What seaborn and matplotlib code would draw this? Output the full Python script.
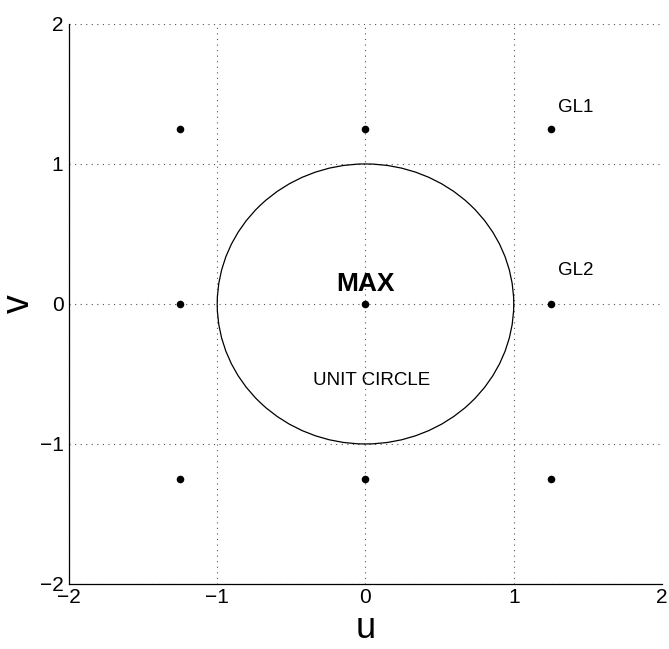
import numpy as np
import pandas as pd
import matplotlib
matplotlib.use("Agg")
import matplotlib.pyplot as plt
from matplotlib.patches import Circle
from matplotlib.ticker import MultipleLocator
import seaborn as sns

# Grating-lobe lattice positions in (u, v) space
u_pos = [-1.25, 0.0, 1.25, -1.25, 0.0, 1.25, -1.25, 0.0, 1.25]
v_pos = [1.25, 1.25, 1.25, 0.0, 0.0, 0.0, -1.25, -1.25, -1.25]

# Visible region radius
circle_radius = 1.0

# Annotations: text, u, v
labels = ["GL1", "GL2", "MAX", "UNIT CIRCLE"]
label_u = [1.30, 1.30, 0.0, 0.04]
label_v = [1.40, 0.24, 0.14, -0.55]

ticks = [-2, -1, 0, 1, 2]

sns.set_style("white")
plt.rcParams["font.family"] = ["Liberation Sans", "DejaVu Sans"]
plt.rcParams["text.color"] = "black"
plt.rcParams["axes.labelcolor"] = "black"

fig = plt.figure(figsize=(6.69, 6.49), dpi=100)
ax = fig.add_axes([0.1031, 0.1002, 0.8864, 0.8629])

df = pd.DataFrame({"u": u_pos, "v": v_pos})
sns.scatterplot(data=df, x="u", y="v", ax=ax, color="black", s=30,
                edgecolor="black", linewidth=0, zorder=3)

ax.add_patch(Circle((0, 0), circle_radius, fill=False, edgecolor="black",
                    linewidth=0.9, zorder=2))

ax.set_xlim(-2, 2)
ax.set_ylim(-2, 2)
ax.set_xticks(ticks)
ax.set_yticks(ticks)
ax.set_xticklabels(["\u22122", "\u22121", "0", "1", "2"])
ax.set_yticklabels(["\u22122", "\u22121", "0", "1", "2"])
ax.xaxis.set_minor_locator(MultipleLocator(0.05))
ax.yaxis.set_minor_locator(MultipleLocator(0.05))

ax.grid(True, which="major", linestyle=(0, (1, 4)), color="#555555",
        linewidth=0.8)
ax.set_axisbelow(True)

for side in ["top", "right"]:
    ax.spines[side].set_visible(False)
for side in ["left", "bottom"]:
    ax.spines[side].set_color("black")
    ax.spines[side].set_linewidth(0.9)

ax.tick_params(axis="both", which="major", direction="in", length=5,
               width=0.8, labelsize=15, colors="black", pad=3)
ax.tick_params(axis="y", which="major", pad=4)
ax.tick_params(axis="both", which="minor", direction="in", length=1.5,
               width=0.5, colors="black")

ax.set_xlabel("u", fontsize=26, labelpad=3)
ax.set_ylabel("v", fontsize=27, labelpad=2)

for txt, x, y in zip(labels, label_u, label_v):
    if txt == "MAX":
        ax.text(x, y, txt, fontsize=19, fontweight="bold", ha="center",
                va="center")
    elif txt == "UNIT CIRCLE":
        ax.text(x, y, txt, fontsize=13.5, ha="center", va="center")
    else:
        ax.text(x, y, txt, fontsize=13.5, ha="left", va="center")

fig.savefig("out.png", dpi=100, facecolor="white")
